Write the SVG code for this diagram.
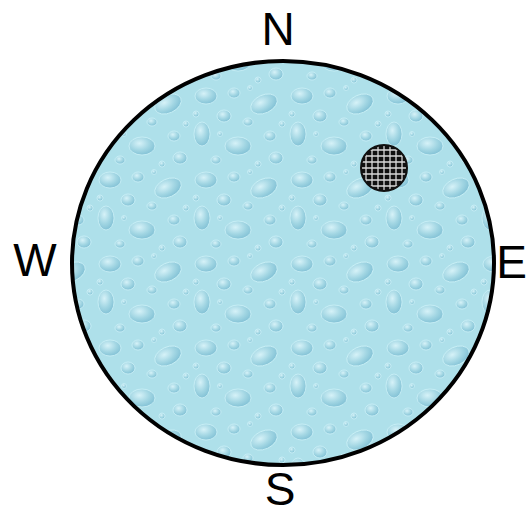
<svg xmlns="http://www.w3.org/2000/svg" width="528" height="516" viewBox="0 0 528 516">
<style>
.lbl{font-family:"Liberation Sans","Open Sans",sans-serif;font-size:46px;fill:#000;text-anchor:middle}
.drop{fill:url(#dg);stroke:#cdf1f7;stroke-width:0.8}
.grid{stroke:#d8d8d8;stroke-width:1.3}
</style>
<defs>
<radialGradient id="dg" cx="0.4" cy="0.35" r="0.7">
<stop offset="0" stop-color="#d6f2f8"/>
<stop offset="0.55" stop-color="#a2d6e3"/>
<stop offset="1" stop-color="#7fbfd4"/>
</radialGradient>
<pattern id="water" width="96" height="84" patternUnits="userSpaceOnUse">
<rect width="96" height="84" fill="#aee0ea"/>
<ellipse class="drop" cx="14" cy="12" rx="11" ry="8"/>
<ellipse class="drop" cx="42" cy="9" rx="6" ry="5"/>
<ellipse class="drop" cx="72" cy="20" rx="14" ry="9" transform="rotate(-25 72 20)"/>
<ellipse class="drop" cx="32" cy="32" rx="7" ry="6"/>
<ellipse class="drop" cx="10" cy="50" rx="8" ry="12"/>
<ellipse class="drop" cx="46" cy="62" rx="13" ry="9"/>
<ellipse class="drop" cx="78" cy="52" rx="6" ry="5"/>
<ellipse class="drop" cx="84" cy="74" rx="7" ry="6"/>
<ellipse class="drop" cx="24" cy="76" rx="5" ry="4"/>
<ellipse class="drop" cx="56" cy="38" rx="5" ry="4"/>
<circle class="drop" cx="4" cy="30" r="3"/>
<circle class="drop" cx="66" cy="80" r="3"/>
<circle class="drop" cx="90" cy="40" r="3"/>
<circle class="drop" cx="28" cy="50" r="2.5"/>
<circle class="drop" cx="58" cy="4" r="2.5"/>
</pattern>
<clipPath id="sc"><circle cx="384" cy="168" r="23"/></clipPath>
</defs>
<g id="pond">
<ellipse cx="283" cy="263" rx="211" ry="202" fill="url(#water)" stroke="#000" stroke-width="4"/>
</g>
<g id="grate">
<circle cx="384" cy="168" r="23" fill="#111"/>
<g clip-path="url(#sc)" class="grid">
<line x1="366" y1="140" x2="366" y2="196"/><line x1="372" y1="140" x2="372" y2="196"/><line x1="378" y1="140" x2="378" y2="196"/><line x1="384" y1="140" x2="384" y2="196"/><line x1="390" y1="140" x2="390" y2="196"/><line x1="396" y1="140" x2="396" y2="196"/><line x1="402" y1="140" x2="402" y2="196"/>
<line x1="356" y1="150" x2="412" y2="150"/><line x1="356" y1="156" x2="412" y2="156"/><line x1="356" y1="162" x2="412" y2="162"/><line x1="356" y1="168" x2="412" y2="168"/><line x1="356" y1="174" x2="412" y2="174"/><line x1="356" y1="180" x2="412" y2="180"/><line x1="356" y1="186" x2="412" y2="186"/>
</g>
<circle cx="384" cy="168" r="23" fill="none" stroke="#111" stroke-width="2"/>
</g>
<g id="labels">
<text class="lbl" x="278" y="45">N</text>
<text class="lbl" x="35" y="276">W</text>
<text class="lbl" x="527" y="278" style="text-anchor:end">E</text>
<text class="lbl" x="280" y="505">S</text>
</g>
</svg>
